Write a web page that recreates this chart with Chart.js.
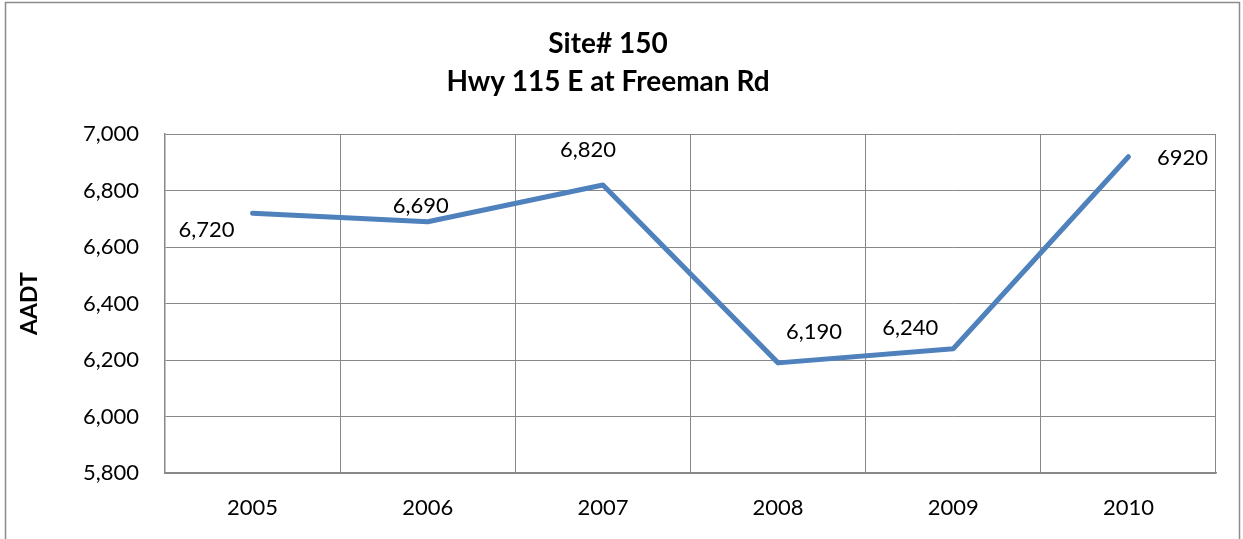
<!DOCTYPE html>
<html>
<head>
<meta charset="utf-8">
<script src="https://cdn.jsdelivr.net/npm/chart.js@4.4.1/dist/chart.umd.min.js"></script>
<style>
  html, body { margin:0; padding:0; background:#fff; overflow:hidden; }
  #wrap { width:1243px; height:539px; position:relative; }
</style>
</head>
<body>
<div id="wrap"><canvas id="chart" width="1243" height="539"></canvas></div>
<script>
const years = ['2005','2006','2007','2008','2009','2010'];
const aadt = [6720, 6690, 6820, 6190, 6240, 6920];
const pointLabels = ['6,720','6,690','6,820','6,190','6,240','6920'];
const titleLines = ['Site# 150','Hwy 115 E at Freeman Rd'];

const FONT = 'Lato, "Open Sans", sans-serif';
const GRID = '#888888';

// label offsets relative to each point (dx, dy)
const labelOffsets = [[-46,17],[-7,-16],[-15,-35],[36,-31],[-43,-21],[54,1]];

const frame = {
  id:'frame',
  afterDraw(c){
    const ctx=c.ctx;
    ctx.save();
    ctx.strokeStyle='#8c8c8c';
    ctx.lineWidth=1.5;
    ctx.strokeRect(5.5,2.5,1234,600);
    ctx.restore();
  }
};

const dataLabels = {
  id:'dataLabels',
  afterDatasetsDraw(c){
    const ctx=c.ctx;
    const meta=c.getDatasetMeta(0);
    ctx.save();
    ctx.font='22px '+FONT;
    ctx.fillStyle='#000';
    ctx.textAlign='center';
    ctx.textBaseline='middle';
    meta.data.forEach((p,i)=>{
      const o=labelOffsets[i];
      ctx.fillText(pointLabels[i], p.x+o[0], p.y+o[1]);
    });
    ctx.restore();
  }
};

new Chart(document.getElementById('chart'),{
  type:'line',
  data:{labels:years,datasets:[{
    data:aadt,
    borderColor:'#4f81bd',
    borderWidth:5,
    pointRadius:0,
    tension:0,
    borderCapStyle:'round',
    borderJoinStyle:'round'
  }]},
  options:{
    responsive:false,
    animation:false,
    layout:{padding:{left:0,right:27,top:0,bottom:0}},
    plugins:{
      legend:{display:false},
      tooltip:{enabled:false},
      title:{
        display:true,
        text:titleLines,
        color:'#000',
        font:{family:FONT,size:28,weight:'bold',lineHeight:1.36},
        padding:{top:25,bottom:33}
      }
    },
    scales:{
      x:{
        offset:true,
        grid:{color:GRID,lineWidth:1,drawTicks:false,offset:true},
        border:{color:GRID,width:1.5},
        ticks:{color:'#000',font:{family:FONT,size:22},padding:22},
        afterFit(s){ s.height=66; }
      },
      y:{
        min:5800,max:7000,
        grid:{color:GRID,lineWidth:1,drawTicks:false},
        border:{color:GRID,width:1.5},
        ticks:{stepSize:200,color:'#000',font:{family:FONT,size:22},padding:26,
          callback:v=>v.toLocaleString('en-US')},
        title:{display:true,text:'AADT',color:'#000',font:{family:FONT,size:23,weight:'bold'},padding:{top:16,bottom:4}},
        afterFit(s){ s.width=165; }
      }
    }
  },
  plugins:[frame,dataLabels]
});
</script>
</body>
</html>
